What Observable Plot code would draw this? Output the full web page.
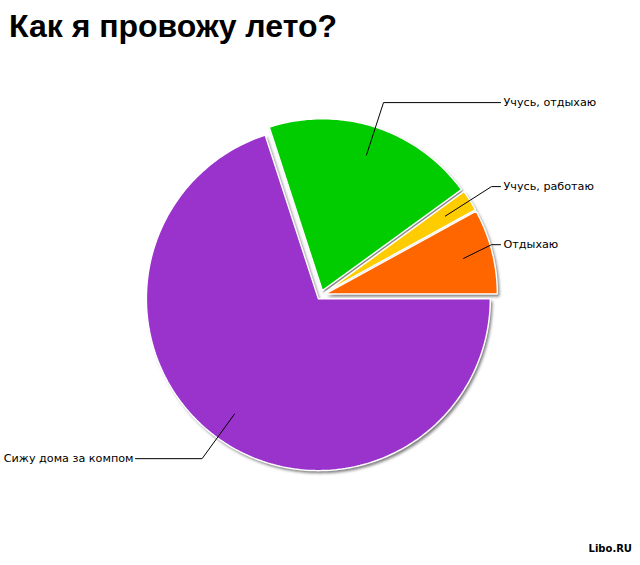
<!DOCTYPE html>
<html><head><meta charset="utf-8">
<script src="https://cdn.jsdelivr.net/npm/d3@7"></script>
<script src="https://cdn.jsdelivr.net/npm/@observablehq/plot@0.6"></script>
<style>
body{margin:0;background:#fff;}
#wrap{position:relative;width:640px;height:565px;overflow:hidden;}
#title{height:50px;font-family:"Liberation Sans",Arial,sans-serif;font-weight:bold;font-size:32px;line-height:52px;padding-left:9px;color:#000;box-sizing:border-box;}
#src{position:absolute;right:8px;top:543px;font-family:"DejaVu Sans",Verdana,sans-serif;font-weight:bold;font-size:10px;color:#000;}
.shadow{filter:blur(1.5px);}
</style></head>
<body><div id="wrap"><div id="title">Как я провожу лето?</div><div id="chart"></div><div id="src">Libo.RU</div></div>
<script>
const categories = ["Отдыхаю", "Учусь, работаю", "Учусь, отдыхаю", "Сижу дома за компом"];
const values = [8, 2, 20, 70];
const colors = ["#ff6600", "#ffcc00", "#00cc00", "#9933cc"];

// layout
const W = 640, H = 515, top0 = 50;
const cx = 320.5, cy = 294.5, R = 172, explode = 4.5;
const labelXRight = 503, labelXLeft = 133;

const total = d3.sum(values);
let acc = 0;
const slices = categories.map((c, i) => {
  const a0 = acc / total * 2 * Math.PI;
  acc += values[i];
  const a1 = acc / total * 2 * Math.PI;
  const mid = (a0 + a1) / 2;
  const ox = cx + explode * Math.cos(mid), oy = cy - explode * Math.sin(mid);
  const pts = [{x: ox, y: oy}];
  const n = Math.max(4, Math.ceil((a1 - a0) / (Math.PI / 180)));
  for (let k = 0; k <= n; k++) {
    const a = a0 + (a1 - a0) * k / n;
    pts.push({x: ox + R * Math.cos(a), y: oy - R * Math.sin(a)});
  }
  pts.push({x: ox, y: oy});
  const right = Math.cos(mid) >= 0;
  const inner = {x: ox + 0.83 * R * Math.cos(mid), y: oy - 0.83 * R * Math.sin(mid)};
  let ex = ox + 1.15 * R * Math.cos(mid), ey = oy - 1.15 * R * Math.sin(mid);
  if (right) ex = Math.min(ex, labelXRight - 12); else ex = Math.max(ex, labelXLeft + 12);
  const end = {x: right ? labelXRight - 3 : labelXLeft + 2, y: ey};
  return {name: c, color: colors[i], pts, right, leader: [inner, {x: ex, y: ey}, end],
          label: {x: right ? labelXRight : labelXLeft, y: ey, name: c}};
});

const marks = [];
for (const s of slices) {
  marks.push(Plot.line(s.pts, {x: d => d.x + 2, y: d => d.y + 2.5, fill: "#222", fillOpacity: 0.6, stroke: "none", className: "shadow"}));
}
for (const s of slices) {
  marks.push(Plot.line(s.pts, {x: "x", y: "y", fill: s.color, stroke: "#fff", strokeWidth: 1.5, strokeLinejoin: "miter"}));
}
for (const s of slices) {
  marks.push(Plot.line(s.leader, {x: "x", y: "y", stroke: "#000", strokeWidth: 1}));
}
const rightLabels = slices.filter(s => s.right).map(s => s.label);
const leftLabels = slices.filter(s => !s.right).map(s => s.label);
marks.push(Plot.text(rightLabels, {x: "x", y: "y", text: "name", textAnchor: "start", fill: "#000", fontSize: 11.2, fontFamily: "DejaVu Sans, Verdana, sans-serif"}));
marks.push(Plot.text(leftLabels, {x: "x", y: "y", text: "name", textAnchor: "end", fill: "#000", fontSize: 11.2, fontFamily: "DejaVu Sans, Verdana, sans-serif"}));

const chart = Plot.plot({
  width: W, height: H, margin: 0,
  x: {domain: [0, W], range: [0, W], axis: null},
  y: {domain: [top0, top0 + H], range: [0, H], axis: null},
  style: {background: "#fff", overflow: "visible"},
  marks
});
document.getElementById("chart").appendChild(chart);
</script></body></html>
